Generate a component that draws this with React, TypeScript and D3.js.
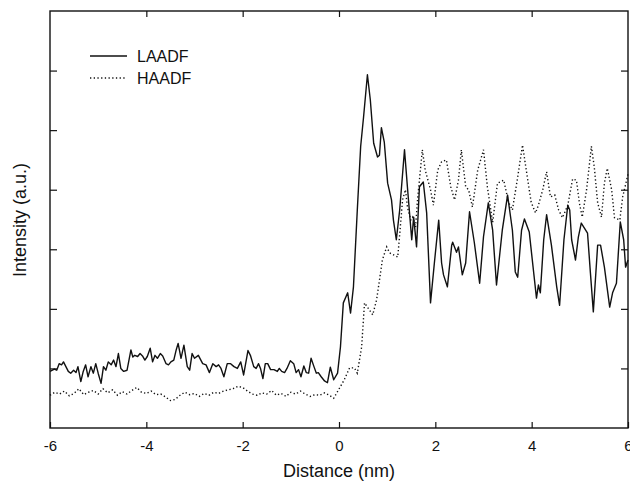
import React, { useEffect, useRef } from 'react';
import * as d3 from 'd3';

// LAADF profile (solid line): distance in nm, intensity in a.u.
const laadfDist = [
  -6.0, -5.91, -5.86, -5.81, -5.76, -5.72, -5.67, -5.62, -5.57, -5.51, -5.46, -5.42, -5.36, -5.31, -5.26, -5.21,
  -5.15, -5.1, -5.05, -5.0, -4.94, -4.89, -4.84, -4.79, -4.73, -4.68, -4.63, -4.58, -4.53, -4.47, -4.4, -4.32,
  -4.28, -4.24, -4.18, -4.13, -4.08, -4.03, -3.98, -3.92, -3.87, -3.82, -3.77, -3.71, -3.66, -3.59, -3.54, -3.49,
  -3.43, -3.38, -3.34, -3.28, -3.22, -3.15, -3.1, -3.05, -3.0, -2.92, -2.83, -2.76, -2.69, -2.62, -2.55, -2.5,
  -2.45, -2.39, -2.32, -2.25, -2.18, -2.11, -2.04, -1.98, -1.89, -1.84, -1.77, -1.72, -1.67, -1.63, -1.58, -1.53,
  -1.48, -1.42, -1.35, -1.28, -1.24, -1.19, -1.13, -1.08, -1.01, -0.94, -0.89, -0.84, -0.79, -0.73, -0.68, -0.63,
  -0.58, -0.52, -0.47, -0.43, -0.37, -0.3, -0.24, -0.18, -0.11, -0.03, 0.03, 0.09, 0.18, 0.24, 0.3, 0.38,
  0.45, 0.51, 0.59, 0.65, 0.72, 0.8, 0.84, 0.88, 0.94, 1.01, 1.09, 1.13, 1.19, 1.26, 1.36, 1.42,
  1.51, 1.55, 1.61, 1.67, 1.75, 1.82, 1.9, 1.98, 2.07, 2.13, 2.17, 2.25, 2.34, 2.36, 2.44, 2.48,
  2.56, 2.63, 2.71, 2.81, 2.92, 3.0, 3.1, 3.19, 3.27, 3.39, 3.5, 3.6, 3.66, 3.71, 3.79, 3.85,
  3.95, 4.02, 4.1, 4.14, 4.18, 4.25, 4.31, 4.41, 4.52, 4.58, 4.67, 4.75, 4.79, 4.83, 4.91, 4.97,
  5.03, 5.16, 5.22, 5.28, 5.37, 5.43, 5.51, 5.62, 5.68, 5.76, 5.84, 5.91, 5.95, 6.0,
];
const laadfInt = [
  0.95, 0.99, 0.97, 1.08, 1.06, 1.11, 1.03, 0.95, 0.92, 0.97, 0.93, 1.03, 0.78, 0.95, 1.06, 0.86,
  1.03, 0.92, 1.08, 0.92, 0.75, 1.03, 0.97, 1.11, 1.06, 1.14, 1.03, 1.25, 1.0, 0.95, 0.97, 1.31,
  1.19, 1.22, 1.2, 1.25, 1.21, 1.14, 1.2, 1.34, 1.11, 1.22, 1.17, 1.25, 1.21, 1.08, 1.06, 1.11,
  1.14, 1.31, 1.42, 1.17, 1.39, 1.03, 0.97, 1.25, 1.17, 1.22, 1.08, 1.06, 0.93, 1.08, 1.03, 1.06,
  1.0, 0.86, 1.08, 1.08, 1.03, 1.0, 1.11, 0.89, 1.3, 1.22, 1.03, 1.0, 1.08, 1.0, 0.83, 1.08,
  1.08, 0.98, 0.98, 0.95, 1.0, 0.95, 0.93, 1.0, 1.13, 1.08, 0.93, 0.98, 0.86, 1.04, 0.93, 0.92,
  1.17, 1.03, 0.92, 0.93, 0.86, 0.79, 0.76, 1.02, 0.81, 0.92, 1.36, 2.1, 2.27, 1.93, 2.37, 3.66,
  4.73, 5.22, 5.93, 5.51, 4.78, 4.55, 4.58, 5.04, 4.8, 4.11, 3.83, 3.49, 3.16, 3.66, 4.67, 4.05,
  3.16, 3.54, 3.04, 4.05, 4.13, 3.61, 2.1, 2.77, 3.49, 2.77, 2.57, 2.37, 3.07, 3.12, 2.95, 3.04,
  2.57, 2.77, 3.63, 3.11, 2.43, 3.21, 3.78, 3.32, 2.4, 3.32, 3.91, 3.32, 2.62, 2.53, 3.32, 3.51,
  3.29, 2.77, 2.18, 2.4, 2.27, 3.16, 3.58, 3.07, 2.37, 2.06, 3.16, 3.74, 3.66, 3.16, 2.82, 3.21,
  3.44, 3.27, 2.6, 1.95, 3.07, 3.07, 2.7, 2.03, 2.27, 2.43, 3.46, 3.16, 2.7, 2.82,
];

// HAADF profile (dotted line)
const haadfDist = [
  -6.0, -5.9, -5.8, -5.7, -5.6, -5.5, -5.4, -5.3, -5.2, -5.1, -5.0, -4.9, -4.8, -4.7, -4.6, -4.5,
  -4.4, -4.3, -4.2, -4.1, -4.0, -3.9, -3.8, -3.7, -3.6, -3.5, -3.4, -3.3, -3.2, -3.1, -3.0, -2.9,
  -2.8, -2.7, -2.6, -2.5, -2.4, -2.3, -2.2, -2.1, -2.0, -1.9, -1.8, -1.7, -1.6, -1.5, -1.4, -1.3,
  -1.2, -1.1, -1.0, -0.9, -0.8, -0.7, -0.6, -0.5, -0.4, -0.3, -0.2, -0.11, -0.01, 0.11, 0.22, 0.32,
  0.38, 0.47, 0.53, 0.59, 0.7, 0.78, 0.84, 0.9, 0.99, 1.05, 1.15, 1.22, 1.28, 1.32, 1.38, 1.42,
  1.49, 1.53, 1.59, 1.63, 1.69, 1.73, 1.79, 1.9, 1.96, 2.05, 2.13, 2.23, 2.32, 2.4, 2.48, 2.54,
  2.63, 2.69, 2.77, 2.88, 3.0, 3.08, 3.19, 3.29, 3.42, 3.52, 3.6, 3.7, 3.81, 3.91, 3.99, 4.08,
  4.14, 4.23, 4.31, 4.39, 4.48, 4.56, 4.64, 4.75, 4.85, 4.93, 4.99, 5.05, 5.14, 5.24, 5.3, 5.37,
  5.45, 5.51, 5.57, 5.66, 5.72, 5.83, 5.89, 6.0,
];
const haadfInt = [
  0.55, 0.6, 0.57, 0.62, 0.54, 0.58, 0.66, 0.56, 0.6, 0.63, 0.57, 0.66, 0.59, 0.64, 0.55, 0.61,
  0.57, 0.63, 0.68, 0.6, 0.58, 0.62, 0.56, 0.57, 0.52, 0.46, 0.48, 0.55, 0.6, 0.56, 0.58, 0.53,
  0.58, 0.55, 0.6, 0.58, 0.62, 0.64, 0.66, 0.7, 0.68, 0.62, 0.57, 0.55, 0.59, 0.57, 0.63, 0.55,
  0.58, 0.53, 0.6, 0.57, 0.62, 0.57, 0.53, 0.56, 0.55, 0.59, 0.55, 0.5, 0.64, 0.81, 1.01, 1.01,
  0.92, 1.36, 2.1, 2.03, 1.9, 2.15, 2.48, 2.82, 3.04, 2.94, 2.9, 2.87, 3.44, 3.83, 4.0, 3.71,
  3.49, 3.54, 3.37, 3.83, 4.33, 4.67, 4.33, 4.0, 3.74, 4.33, 4.47, 4.5, 4.05, 3.83, 4.16, 4.67,
  4.05, 4.0, 3.71, 4.33, 4.67, 4.05, 3.45, 4.11, 4.16, 3.79, 3.66, 4.16, 4.75, 4.21, 3.79, 3.61,
  3.74, 4.0, 4.3, 3.88, 3.91, 3.66, 3.53, 3.74, 4.18, 4.16, 3.78, 3.54, 4.0, 4.73, 4.38, 3.78,
  3.54, 4.11, 4.36, 4.0, 3.53, 3.49, 3.88, 4.26,
];

const xTicks = [-6, -4, -2, 0, 2, 4, 6];
const yTicks = [1, 2, 3, 4, 5, 6];
const seriesNames = ['LAADF', 'HAADF'];

const FONT = '"Liberation Sans", Arial, Helvetica, sans-serif';

export default function App() {
  const ref = useRef<SVGSVGElement>(null);

  useEffect(() => {
    const svg = d3.select(ref.current);
    svg.selectAll('*').remove();

    const left = 50, right = 628, top = 11, bottom = 428;
    const x = d3.scaleLinear().domain([-6, 6]).range([left, right]);
    const y = d3.scaleLinear().domain([0, 7]).range([bottom, top]);

    // axes with inward ticks on all four sides
    const bottomAxis = svg.append('g')
      .attr('transform', `translate(0,${bottom})`)
      .call(d3.axisBottom(x).tickValues(xTicks).tickSize(-6).tickPadding(12).tickFormat(d3.format('d')));
    const topAxis = svg.append('g')
      .attr('transform', `translate(0,${top})`)
      .call(d3.axisTop(x).tickValues(xTicks.slice(1, -1)).tickSize(-6).tickFormat(() => ''));
    const leftAxis = svg.append('g')
      .attr('transform', `translate(${left},0)`)
      .call(d3.axisLeft(y).tickValues(yTicks).tickSize(-7).tickFormat(() => ''));
    const rightAxis = svg.append('g')
      .attr('transform', `translate(${right},0)`)
      .call(d3.axisRight(y).tickValues(yTicks).tickSize(-7).tickFormat(() => ''));

    [bottomAxis, topAxis, leftAxis, rightAxis].forEach(g => {
      g.select('.domain').remove();
      g.selectAll('line').attr('stroke', '#111').attr('stroke-width', 1.2);
    });
    bottomAxis.selectAll('text')
      .attr('font-family', FONT)
      .attr('font-size', 15)
      .attr('fill', '#111')
      .text((d: any) => (d === -6 ? '-6' : d < 0 ? '-' + Math.abs(d) : String(d)));

    // frame
    svg.append('rect')
      .attr('x', left).attr('y', top)
      .attr('width', right - left).attr('height', bottom - top)
      .attr('fill', 'none').attr('stroke', '#111').attr('stroke-width', 1.4);

    const line = d3.line<[number, number]>()
      .x(d => x(d[0]))
      .y(d => y(d[1]));

    const laadf = laadfDist.map((d, i) => [d, laadfInt[i]] as [number, number]);
    const haadf = haadfDist.map((d, i) => [d, haadfInt[i]] as [number, number]);

    svg.append('path')
      .attr('d', line(haadf))
      .attr('fill', 'none')
      .attr('stroke', '#111')
      .attr('stroke-width', 1.4)
      .attr('stroke-dasharray', '1.3 2.4');

    svg.append('path')
      .attr('d', line(laadf))
      .attr('fill', 'none')
      .attr('stroke', '#111')
      .attr('stroke-width', 1.4)
      .attr('stroke-linejoin', 'round');

    // legend
    const legend = svg.append('g');
    seriesNames.forEach((name, i) => {
      const ly = 56 + i * 22;
      legend.append('line')
        .attr('x1', 90).attr('x2', 127)
        .attr('y1', ly).attr('y2', ly)
        .attr('stroke', '#111')
        .attr('stroke-width', i === 0 ? 1.4 : 1.3)
        .attr('stroke-dasharray', i === 0 ? null : '1.3 2.4');
      legend.append('text')
        .attr('x', 137).attr('y', ly + 6)
        .attr('font-family', FONT)
        .attr('font-size', 16)
        .attr('fill', '#111')
        .text(name);
    });

    // axis titles
    svg.append('text')
      .attr('x', 339).attr('y', 477)
      .attr('text-anchor', 'middle')
      .attr('font-family', FONT)
      .attr('font-size', 18)
      .attr('fill', '#111')
      .text('Distance (nm)');

    svg.append('text')
      .attr('transform', 'translate(26,220) rotate(-90)')
      .attr('text-anchor', 'middle')
      .attr('font-family', FONT)
      .attr('font-size', 18)
      .attr('fill', '#111')
      .text('Intensity (a.u.)');
  }, []);

  return (
    <svg
      ref={ref}
      width={630}
      height={486}
      style={{ position: 'absolute', left: 0, top: 0, background: '#fff' }}
    />
  );
}
